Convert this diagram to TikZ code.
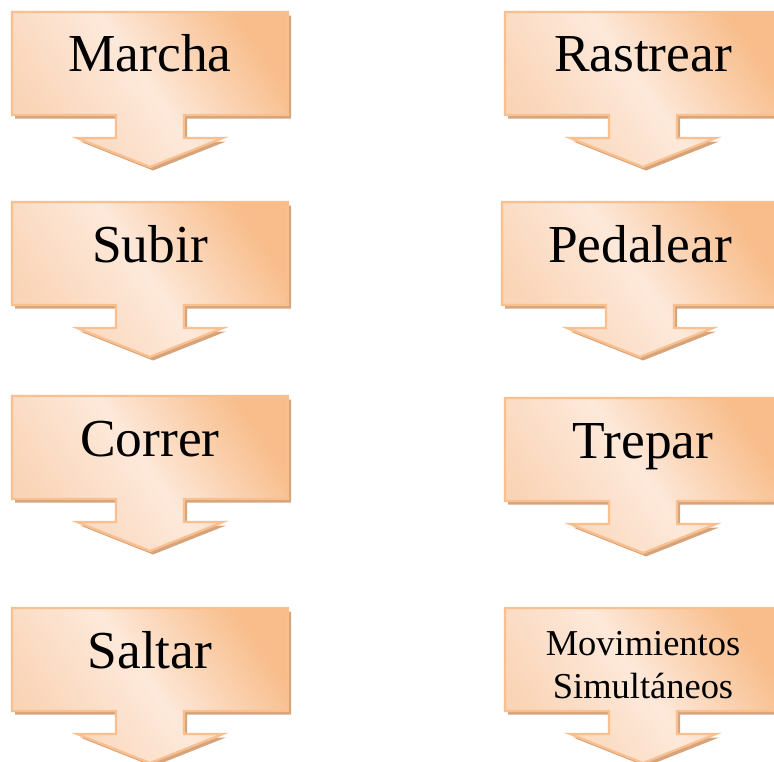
\documentclass[tikz,border=0pt]{standalone}
\usepackage{fontspec}
\setmainfont{Liberation Serif}
\definecolor{boxline}{HTML}{F9BF8E}
\definecolor{shadowc}{HTML}{D5A47C}
\definecolor{orangeD}{HTML}{F8BD8B}
\definecolor{peachL}{HTML}{FDE9DA}
\definecolor{orangeM}{HTML}{FAD4B6}
\newcommand{\calpath}[1]{\path[#1] (-138,0) -- (138,0) -- (138,103) -- (34,103) -- (34,126) -- (73,126) -- (0,155) -- (-73,126) -- (-34,126) -- (-34,103) -- (-138,103) -- cycle;}
\newcommand{\calbox}[5]{%
  \begin{scope}[shift={(#2,#3)}]
    \calpath{shadowfill}
    \calpath{boxfill}
    \node[#5] (#1) at (0,60) {#4};
  \end{scope}}
\begin{document}
\begin{tikzpicture}[x=0.5bp,y=-0.5bp,
  shadowfill/.style={fill=shadowc, shift={(3,3.5)}},
  boxfill/.style={draw=boxline, line width=1.1bp, line join=miter,
    top color=orangeD, bottom color=orangeM, middle color=peachL, shading angle=-55},
  bigtext/.style={anchor=base, inner sep=0pt, font=\fontsize{26.8}{30}\selectfont},
  smalltext/.style={anchor=base, inner sep=0pt, align=center, font=\fontsize{18.3}{21.5}\selectfont}]
\useasboundingbox (0,0) rectangle (774,762);
\clip (0,0) rectangle (774,762);
\calbox{marcha}{150}{12}{Marcha}{bigtext}
\calbox{subir}{150}{202}{Subir}{bigtext}
\calbox{correr}{150}{396}{Correr}{bigtext}
\calbox{saltar}{150}{608}{Saltar}{bigtext}
\calbox{rastrear}{643}{12}{Rastrear}{bigtext}
\calbox{pedalear}{640}{202}{Pedalear}{bigtext}
\calbox{trepar}{643}{398}{Trepar}{bigtext}
\begin{scope}[shift={(643,608)}]
  \calpath{shadowfill}
  \calpath{boxfill}
  \node[smalltext] (movimientos) at (0,90) {Movimientos\\Simultáneos};
\end{scope}
\end{tikzpicture}
\end{document}
